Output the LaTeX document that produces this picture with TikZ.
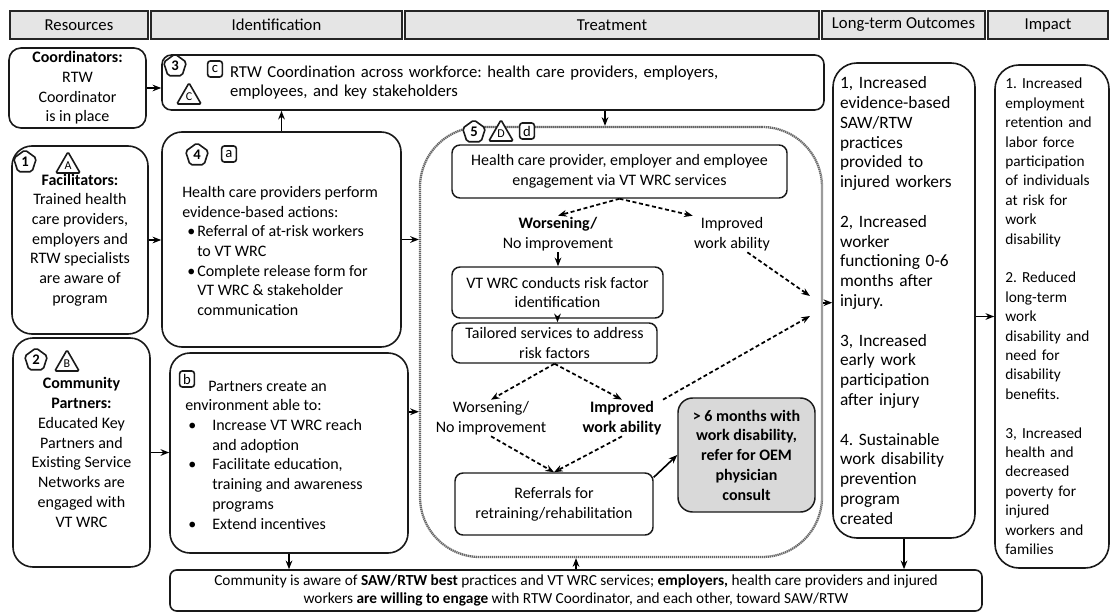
\documentclass[tikz,border=0pt]{standalone}
\usepackage{fontspec}
\setmainfont{Carlito}
\usepackage{tikz}
\usetikzlibrary{shapes,arrows}
\usetikzlibrary{shapes.geometric}
\usetikzlibrary{positioning}
\usetikzlibrary{calc}
\usetikzlibrary{arrows.meta}
\tikzset{>={Stealth[length=6.5pt,width=5pt]}}
\frenchspacing
\newcommand{\fsz}[1]{\fontsize{#1}{14.8}\selectfont}
\newcommand{\bullt}[2]{\makebox[#2][l]{\hspace*{#1}\textbullet}}
\tikzstyle{head} = [draw=black!85, fill=black!10, line width=1pt,
minimum height=21pt, inner sep=0pt, font=\fsz{12.5}]
\tikzstyle{block} = [draw=black!90, fill=white, line width=1.2pt,
rounded corners=15pt, inner sep=0pt, align=center, font=\fsz{12}]
\tikzstyle{flow} = [draw=black!90, fill=white, line width=1.1pt,
rounded corners=6pt, inner sep=0pt, align=center, font=\fsz{12}]
\tikzstyle{tframe} = [draw=black!60, line width=1.7pt, dash pattern=on 1pt off 0.5pt,
rounded corners=45pt, inner sep=0pt]
\tikzstyle{lbl} = [inner sep=1pt, align=center, font=\fsz{12}]
\tikzstyle{pent} = [draw=black!90, fill=white, line width=1.2pt, regular polygon,
regular polygon sides=5, minimum size=18pt, inner sep=0pt, rounded corners=1.5pt,
font=\bfseries\fontsize{11}{11}\selectfont]
\tikzstyle{tri} = [draw=black!90, line width=1.2pt, regular polygon,
regular polygon sides=3, minimum size=21pt, inner sep=0pt, rounded corners=1pt,
font=\fontsize{9}{9}\selectfont]
\tikzstyle{sq} = [draw=black!90, fill=white, line width=1.2pt, rounded corners=2pt,
minimum width=11pt, minimum height=12pt, inner sep=0pt,
font=\fontsize{11}{11}\selectfont]
\tikzstyle{line} = [draw, ->, line width=1.2pt]
\tikzstyle{dline} = [draw, ->, line width=1.3pt, densely dashed]

\begin{document}
\begin{tikzpicture}[x=0.75pt, y=-0.75pt]
	\fill [white] (0,0) rectangle (1112,613);
	\useasboundingbox (0,0) rectangle (1112,613);
	%% Column headers
	\node [head, minimum width=103.5pt] (hres) at (79,25) {Resources};
	\node [head, minimum width=188.25pt] (hident) at (276.5,25) {Identification};
	\node [head, minimum width=310.5pt] (htreat) at (612,25) {Treatment};
	\node [head, minimum width=122.25pt] (hlto) at (903.5,25) {Long-term Outcomes};
	\node [head, minimum width=90pt] (himp) at (1048,25) {Impact};
	%% Resources
	\node [block, rounded corners=9pt, minimum width=102.75pt, minimum height=60pt]
	(coord) at (77.5,88) {\textbf{Coordinators:}\\RTW\\Coordinator\\is in place};
	\node [block, minimum width=102pt, minimum height=141pt] (fac) at (80,240)
	{\textbf{Facilitators:}\\Trained health\\care providers,\\employers and\\RTW specialists\\are aware of\\program};
	\node [block, minimum width=102.75pt, minimum height=171.75pt] (comm) at (81.5,452.5)
	{\textbf{Community}\\\textbf{Partners:}\\Educated Key\\Partners and\\Existing Service\\Networks are\\engaged with\\VT WRC};
	%% Identification
	\node [block, rounded corners=7pt, minimum width=496.5pt, minimum height=41.25pt,
	align=left, text width=394.5pt, font=\fsz{12.5}] (coordtn) at (493,82.5)
	{RTW Coordination across workforce: health care providers, employers,\\employees, and key stakeholders};
	\node [block, minimum width=179.25pt, minimum height=161.25pt] (hcp) at (281.5,239.5) {};
	\node [lbl, anchor=west, align=left, inner sep=0pt] (hcptxt) at (182,251)
	{Health care providers perform\\evidence-based actions:\\
	\bullt{3.75pt}{11.25pt}Referral of at-risk workers\\\hspace*{11.25pt}to VT WRC\\
	\bullt{3.75pt}{11.25pt}Complete release form for\\\hspace*{11.25pt}VT WRC \& stakeholder\\
	\hspace*{11.25pt}communication};
	\node [block, minimum width=178.5pt, minimum height=150pt] (part) at (289,453) {};
	\node [lbl, anchor=west, align=left, inner sep=0pt] (parttxt) at (185,455)
	{\hspace*{17.25pt}Partners create an\\environment able to:\\
	\bullt{2.25pt}{20.25pt}Increase VT WRC reach\\\hspace*{20.25pt}and adoption\\
	\bullt{2.25pt}{20.25pt}Facilitate education,\\\hspace*{20.25pt}training and awareness\\
	\hspace*{20.25pt}programs\\\bullt{2.25pt}{20.25pt}Extend incentives};
	%% Treatment
	\node [tframe, minimum width=301.5pt, minimum height=322.5pt] (treat) at (621,342) {};
	\node [flow, minimum width=251.25pt, minimum height=39.75pt] (engage) at (619.5,171.5)
	{Health care provider, employer and employee\\engagement via VT WRC services};
	\node [lbl] (wors1) at (558,234) {\textbf{Worsening/}\\No improvement};
	\node [lbl] (impr1) at (732,234) {Improved\\work ability};
	\node [flow, minimum width=158.25pt, minimum height=38.25pt] (risk) at (557.5,292.5)
	{VT WRC conducts risk factor\\identification};
	\node [flow, minimum width=153.75pt, minimum height=30pt] (tailor) at (554.5,343)
	{Tailored services to address\\risk factors};
	\node [lbl] (wors2) at (491,418) {Worsening/\\No improvement};
	\node [lbl, font=\bfseries\fsz{12}] (impr2) at (622,418) {Improved\\work ability};
	\node [flow, minimum width=148.5pt, minimum height=46.5pt] (refer) at (554,504)
	{Referrals for\\retraining/rehabilitation};
	\node [flow, rounded corners=11pt, fill=black!15, minimum width=102.75pt,
	minimum height=85.5pt, font=\bfseries\fsz{12}] (oem) at (746.5,455)
	{> 6 months with\\work disability,\\refer for OEM\\physician\\consult};
	\coordinate (in1) at (810,296);
	\coordinate (in2) at (810,316);
	%% Outcomes and impact
	\node [block, rounded corners=18pt, minimum width=106.5pt, minimum height=356.25pt,
	align=left, text width=96pt, font=\fontsize{13}{14.85}\selectfont] (outc) at (904,300.5)
	{1, Increased\\evidence-based\\SAW/RTW\\practices\\provided to\\injured workers\\[14.85pt]
	2, Increased\\worker\\functioning 0-6\\months after\\injury.\\[14.85pt]
	3, Increased\\early work\\participation\\after injury\\[14.85pt]
	4. Sustainable\\work disability\\prevention\\program\\created};
	\node [block, rounded corners=18pt, minimum width=85.5pt, minimum height=377.25pt,
	align=left, text width=70pt, font=\fontsize{11.5}{14.55}\selectfont] (imp) at (1052,316.5)
	{1. Increased\\employment\\retention and\\labor force\\participation\\of individuals\\at risk for\\work\\disability\\[14.55pt]
	2. Reduced\\long-term\\work\\disability and\\need for\\disability\\benefits.\\[14.55pt]
	3, Increased\\health and\\decreased\\poverty for\\injured\\workers and\\families};
	%% Community
	\node [block, rounded corners=5pt, minimum width=609pt, minimum height=30.75pt,
	font=\fontsize{11.5}{13.5}\selectfont] (aware) at (576,590.5)
	{Community is aware of \textbf{SAW/RTW best} practices and VT WRC services; \textbf{employers,} health care providers and injured\\
	workers \textbf{are willing to engage} with RTW Coordinator, and each other, toward SAW/RTW};
	%% Markers
	\node [pent] (m3) at (175,66) {3};
	\node [tri] (tC) at (189,97) {C};
	\node [sq] (sc) at (215,69) {c};
	\node [pent] (m1) at (25,162) {1};
	\node [tri] (tA) at (68,166) {A};
	\node [pent] (m2) at (36,360) {2};
	\node [tri] (tB) at (67,364) {B};
	\node [pent] (m4) at (197,155) {4};
	\node [sq] (sa) at (229,154) {a};
	\node [sq] (sb) at (187,379) {b};
	\node [pent] (m5) at (474,132) {5};
	\node [tri, fill=white] (tD) at (501,134) {D};
	\node [sq] (sd) at (527,131) {d};
	%% Arrows between columns
	\path [line] (coord.east) to (coord.east -| coordtn.west);
	\path [line] (fac.east) to (fac.east -| hcp.west);
	\path [line] (comm.east) to (comm.east -| part.west);
	\path [line] (hcp.east) to (hcp.east -| treat.west);
	\path [line] (part.19) to (part.19 -| treat.west);
	\path [line] (hcp.north) to (hcp.north |- coordtn.south);
	\path [line] ([xshift=-12pt]treat.north |- coordtn.south) to ([xshift=-12pt]treat.north);
	\path [line] (treat.11) to (treat.11 -| outc.west);
	\path [line] (outc.east |- imp.west) to (imp.west);
	\path [line] (part.south) to (part.south |- aware.north);
	\path [line] (aware.north) to (aware.north |- treat.south);
	\path [line] (outc.south) to (outc.south |- aware.north);
	%% Arrows inside treatment
	\path [dline] (engage.south) to (wors1.north);
	\path [dline] (engage.south) to (impr1.155);
	\path [line, line width=1pt] (wors1.south) to (wors1.south |- risk.north);
	\path [line, line width=1pt] (risk.south) to (risk.south |- tailor.north);
	\path [dline] (tailor.south) to (wors2.north);
	\path [dline] (tailor.south) to (impr2.north);
	\path [dline] (wors2.south) to (refer.north);
	\path [dline] (impr2.south) to (refer.north);
	\path [line] (refer.15) to (oem.west);
	\path [dline] (impr1.-50) to (in1);
	\path [dline] (impr2.north east) to (in2);
\end{tikzpicture}
\end{document}
